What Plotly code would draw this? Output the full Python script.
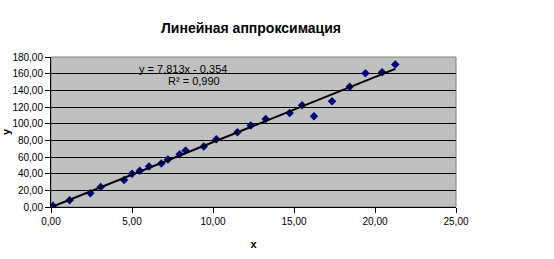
import plotly.graph_objects as go

x_vals = [0.12, 1.15, 2.43, 3.07, 4.51, 5.00, 5.48, 6.05, 6.81, 7.22, 7.94, 8.31,
          9.43, 10.21, 11.51, 12.33, 13.25, 14.73, 15.50, 16.23, 17.35, 18.44,
          19.41, 20.44, 21.25]
y_vals = [1.5, 8.1, 16.4, 24.0, 32.5, 39.8, 43.4, 48.7, 52.3, 57.1, 63.2, 67.8,
          72.6, 81.4, 89.6, 97.8, 105.5, 112.8, 122.0, 108.8, 126.9, 144.4,
          160.4, 161.6, 170.9]
slope = 7.813
intercept = -0.354
x_ticks = [0, 5, 10, 15, 20, 25]
y_ticks = [0, 20, 40, 60, 80, 100, 120, 140, 160, 180]
title_text = "Линейная аппроксимация"
eq_text = "y = 7,813x - 0,354"
r2_text = "R² = 0,990"

x_line = [min(x_vals), max(x_vals)]
y_line = [slope * v + intercept for v in x_line]

fig = go.Figure()
fig.add_trace(go.Scatter(x=x_vals, y=y_vals, mode="markers",
                         marker=dict(symbol="diamond", size=6.5, color="#000080",
                                     line=dict(width=0)),
                         showlegend=False, hoverinfo="skip"))
fig.add_trace(go.Scatter(x=x_line, y=y_line, mode="lines",
                         line=dict(color="black", width=2),
                         showlegend=False, hoverinfo="skip"))

font_fam = "Liberation Sans, Arial, sans-serif"
fig.update_layout(
    width=554, height=259,
    margin=dict(l=51, r=98, t=57, b=52, pad=0),
    paper_bgcolor="white", plot_bgcolor="#c0c0c0",
    separators=", ",
    font=dict(family=font_fam, size=10, color="black"),
    title=dict(text="<b>" + title_text + "</b>", x=251 / 554, xanchor="center",
               xref="container",
               y=1 - 28 / 259, yanchor="middle", yref="container",
               font=dict(size=14, family=font_fam, color="black")),
    xaxis=dict(range=[0, 25], tickvals=x_ticks, tickformat=".2f", automargin=False,
               showgrid=False, zeroline=False, showline=True, linecolor="black",
               linewidth=1, ticks="outside", ticklen=5, tickcolor="black",
               tickfont=dict(size=10),
               title=dict(text="<b>x</b>", font=dict(size=11), standoff=14)),
    yaxis=dict(range=[0, 180], tickvals=y_ticks, tickformat=".2f", automargin=False,
               showgrid=True, gridcolor="black", gridwidth=1, zeroline=False,
               showline=True, linecolor="black", linewidth=1,
               ticks="outside", ticklen=5, tickcolor="black",
               tickfont=dict(size=10),
               title=dict(text="<b>y</b>", font=dict(size=11), standoff=0)),
    shapes=[dict(type="rect", xref="paper", yref="paper", x0=0, y0=0, x1=1, y1=1,
                 line=dict(color="#808080", width=1), fillcolor="rgba(0,0,0,0)",
                 layer="below")],
    annotations=[
        dict(text=eq_text, xref="x", yref="y", x=8.13, y=165.6, showarrow=False,
             xanchor="center", yanchor="middle", font=dict(size=11)),
        dict(text=r2_text, xref="x", yref="y", x=10.54, y=150.7, showarrow=False,
             xanchor="right", yanchor="middle", font=dict(size=11)),
    ],
)

fig.write_html("out.html")
